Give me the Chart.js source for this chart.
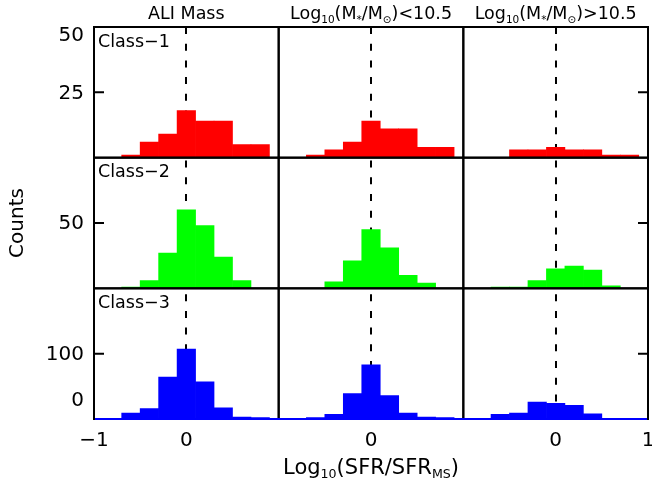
<!DOCTYPE html>
<html>
<head>
<meta charset="utf-8">
<script src="https://cdn.jsdelivr.net/npm/chart.js@4.4.0/dist/chart.umd.min.js"></script>
<style>
  html, body { margin: 0; padding: 0; background: #fff; }
  #sfr-hist { display: block; }
</style>
</head>
<body>
<canvas id="sfr-hist" width="652" height="487"></canvas>
<script>
// bin centres in log(SFR/SFR_MS), 0.2 dex wide
const binCenters = [-0.8, -0.6, -0.4, -0.2, 0.0, 0.2, 0.4, 0.6, 0.8];

// counts per bin: all masses / low mass / high mass
const class1All  = [0, 1, 6, 9, 18, 14, 14, 5, 5];
const class1Low  = [0, 1, 3, 6, 14, 11, 11, 4, 4];
const class1High = [0, 0, 3, 3, 4, 3, 3, 1, 1];

const class2All  = [0, 1, 6, 27, 60, 48, 24, 6, 0];
const class2Low  = [0, 0, 5, 21, 45, 31, 10, 4, 0];
const class2High = [0, 1, 1, 6, 15, 17, 14, 2, 0];

const class3All  = [0, 9, 16, 64, 107, 57, 17, 3, 2];
const class3Low  = [0, 2, 7, 39, 83, 36, 9, 3, 2];
const class3High = [0, 7, 9, 26, 24, 21, 8, 0, 0];

const rowLabels = ['Class\u22121', 'Class\u22122', 'Class\u22123'];
const rowMax = [50, 100, 200];
const rowTickValues = [[25, 50], [50], [0, 100]];
const rowTickLabels = [['25', '50'], ['50'], ['0', '100']];

const xTickValues = [-1, 0, 1];
const xTickLabels = [['\u22121', '0', ''], ['', '0', ''], ['', '0', '1']];

// [text, subscript?]
const columnTitles = [
  [['ALI Mass', false]],
  [['Log', false], ['10', true], ['(M', false], ['*', true], ['/M', false], ['\u2299', true], [')<10.5', false]],
  [['Log', false], ['10', true], ['(M', false], ['*', true], ['/M', false], ['\u2299', true], [')>10.5', false]]
];
const xTitle = [['Log', false], ['10', true], ['(SFR/SFR', false], ['MS', true], [')', false]];
const yTitle = 'Counts';

const rowColors = ['#ff0000', '#00ff00', '#0000ff'];
const FONT = '"DejaVu Sans", sans-serif';

const counts = [
  [class1All, class1Low, class1High],
  [class2All, class2Low, class2High],
  [class3All, class3Low, class3High]
];

const datasets = [];
counts.forEach((row, r) => {
  row.forEach((values, c) => {
    datasets.push({
      data: binCenters.map((x, i) => ({ x: x, y: values[i] })),
      xAxisID: 'x' + c,
      yAxisID: 'y' + r,
      backgroundColor: rowColors[r],
      borderWidth: 0,
      grouped: false,
      barPercentage: 1,
      categoryPercentage: 1
    });
  });
});

const scales = {};
[0, 1, 2].forEach(c => {
  scales['x' + c] = {
    type: 'linear',
    position: 'bottom',
    stack: 'cols',
    stackWeight: 1,
    offset: false,
    min: -1,
    max: 1,
    grid: { display: false, drawTicks: false, offset: false },
    border: { display: false },
    afterBuildTicks: axis => { axis.ticks = xTickValues.map(v => ({ value: v })); },
    afterFit: axis => { axis.height = 40; axis.paddingLeft = 0; axis.paddingRight = 0; },
    ticks: {
      autoSkip: false,
      maxRotation: 0,
      padding: 10,
      color: '#000',
      font: { family: FONT, size: 20 },
      callback: (value, i) => xTickLabels[c][i]
    }
  };
});
[0, 1, 2].forEach(r => {
  scales['y' + r] = {
    type: 'linear',
    position: 'left',
    stack: 'rows',
    stackWeight: 1,
    weight: 3 - r,
    display: false,
    min: 0,
    max: rowMax[r]
  };
});

function drawRich(ctx, parts, cx, cy, size) {
  const subSize = size * 0.6;
  const widths = parts.map(([text, sub]) => {
    ctx.font = (sub ? subSize : size) + 'px ' + FONT;
    return ctx.measureText(text).width;
  });
  const total = widths.reduce((a, b) => a + b, 0);
  let x = cx - total / 2;
  const baseline = cy + size * 0.36;
  ctx.textAlign = 'left';
  ctx.textBaseline = 'alphabetic';
  parts.forEach(([text, sub], i) => {
    ctx.font = (sub ? subSize : size) + 'px ' + FONT;
    ctx.fillText(text, x, baseline + (sub ? size * 0.2 : 0));
    x += widths[i];
  });
}

const panelPlugin = {
  id: 'panels',
  beforeDatasetsDraw(chart) {
    const ctx = chart.ctx;
    const area = chart.chartArea;
    ctx.save();
    ctx.strokeStyle = '#000';
    ctx.lineWidth = 2;
    ctx.setLineDash([7, 9.7]);
    [0, 1, 2].forEach(c => {
      const x = Math.round(chart.scales['x' + c].getPixelForValue(0));
      ctx.beginPath();
      ctx.moveTo(x, area.top);
      ctx.lineTo(x, area.bottom);
      ctx.stroke();
    });
    ctx.restore();
  },
  afterDatasetsDraw(chart) {
    const ctx = chart.ctx;
    ctx.save();
    ctx.strokeStyle = '#000';
    ctx.lineWidth = 2;
    for (let r = 0; r < 3; r++) {
      const ys = chart.scales['y' + r];
      for (let c = 0; c < 3; c++) {
        const xs = chart.scales['x' + c];
        ctx.strokeRect(xs.left, ys.top, xs.right - xs.left, ys.bottom - ys.top);
      }
      // inward tick marks on the outer edges
      const left = chart.scales.x0.left;
      const right = chart.scales.x2.right;
      rowTickValues[r].forEach(v => {
        const y = ys.getPixelForValue(v);
        ctx.beginPath();
        ctx.moveTo(left, y);
        ctx.lineTo(left + 10, y);
        ctx.moveTo(right, y);
        ctx.lineTo(right - 10, y);
        ctx.stroke();
      });
    }
    // histogram baseline of the bottom row
    const yb = chart.scales.y2.bottom;
    ctx.strokeStyle = rowColors[2];
    ctx.beginPath();
    ctx.moveTo(chart.scales.x0.left + 1, yb);
    ctx.lineTo(chart.scales.x2.right - 1, yb);
    ctx.stroke();
    ctx.restore();
  },
  afterDraw(chart) {
    const ctx = chart.ctx;
    const area = chart.chartArea;
    ctx.save();
    ctx.fillStyle = '#000';

    // y tick labels, kept inside their own row at the edges
    ctx.font = '20px ' + FONT;
    ctx.textAlign = 'right';
    ctx.textBaseline = 'middle';
    for (let r = 0; r < 3; r++) {
      const ys = chart.scales['y' + r];
      rowTickValues[r].forEach((v, i) => {
        let y = ys.getPixelForValue(v);
        if (y - ys.top < 6) y = ys.top + 8;
        if (ys.bottom - y < 6) y = ys.bottom - 19;
        ctx.fillText(rowTickLabels[r][i], area.left - 10, y + 1);
      });
      // class label in the first panel of each row
      ctx.save();
      ctx.font = '17.5px ' + FONT;
      ctx.textAlign = 'left';
      ctx.fillText(rowLabels[r], area.left + 4, ys.top + 15);
      ctx.restore();
    }

    // column titles
    [0, 1, 2].forEach(c => {
      const xs = chart.scales['x' + c];
      drawRich(ctx, columnTitles[c], (xs.left + xs.right) / 2, area.top - 14, 17.5);
    });

    // x axis title under the middle column
    const xm = chart.scales.x1;
    drawRich(ctx, xTitle, (xm.left + xm.right) / 2, 466, 21);

    // y axis title
    ctx.translate(18, (area.top + area.bottom) / 2);
    ctx.rotate(-Math.PI / 2);
    ctx.font = '20px ' + FONT;
    ctx.textAlign = 'center';
    ctx.textBaseline = 'middle';
    ctx.fillText(yTitle, 0, 0);
    ctx.restore();
  }
};

new Chart(document.getElementById('sfr-hist'), {
  type: 'bar',
  data: { datasets: datasets },
  options: {
    responsive: false,
    animation: false,
    devicePixelRatio: 1,
    layout: { padding: { left: 94, right: 4, top: 27, bottom: 28 } },
    plugins: { legend: { display: false }, tooltip: { enabled: false } },
    scales: scales
  },
  plugins: [panelPlugin]
});
</script>
</body>
</html>
